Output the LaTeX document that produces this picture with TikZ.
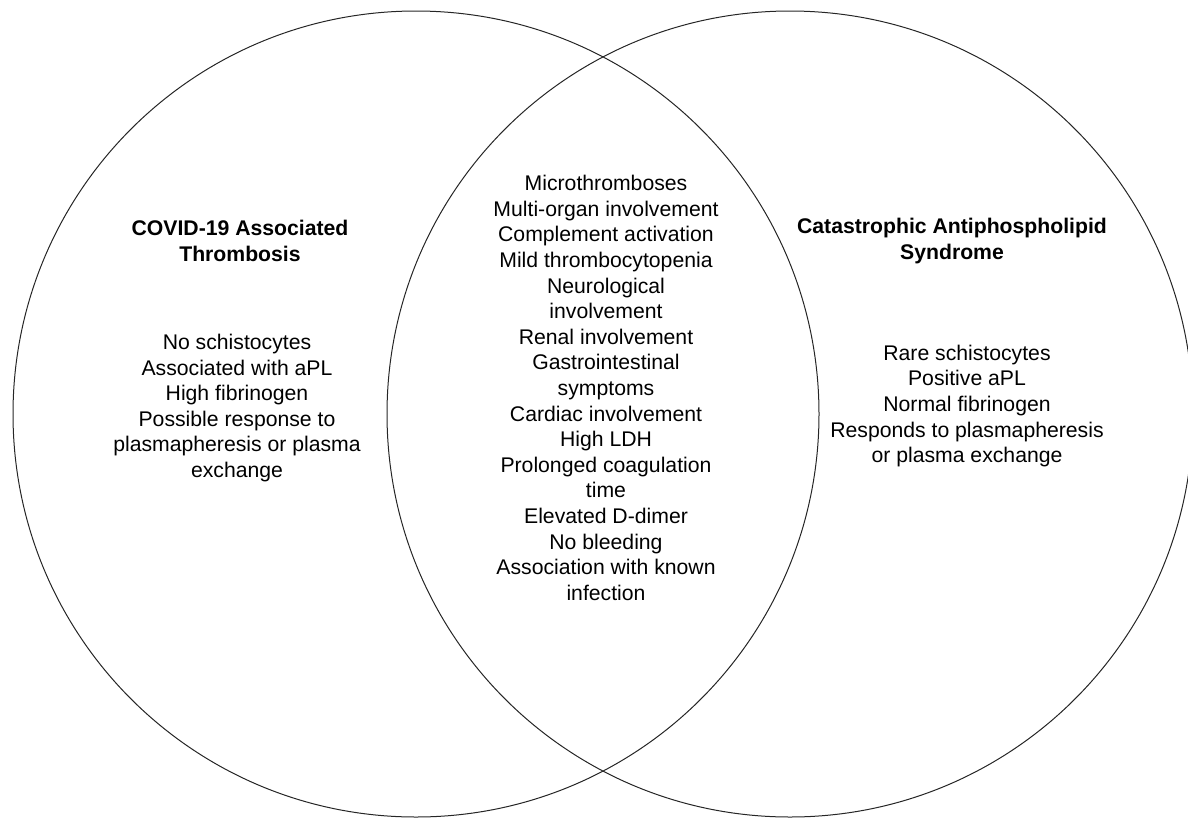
\documentclass[tikz,border=0pt]{standalone}
\usepackage{fontspec}
\setmainfont{Liberation Sans}
\begin{document}
\begin{tikzpicture}[x=1pt,y=-1pt,
  venn/.style={draw=black!85,line width=1pt},
  lbl/.style={align=center,inner sep=0pt,font=\fontsize{21.2}{25.6}\selectfont},
  ttl/.style={lbl,font=\fontsize{21.2}{25.6}\selectfont\bfseries}]
\useasboundingbox (0,0) rectangle (1188,817);
\clip (0,0) rectangle (1188,817);
\draw[venn] (416,414) circle[radius=403pt];
\draw[venn] (790,414) circle[radius=403pt];
\node[ttl] (ltitle) at (240,241) {COVID-19 Associated\\Thrombosis};
\node[lbl] (lbody) at (237,408) {No schistocytes\\Associated with aPL\\High fibrinogen\\Possible response to\\plasmapheresis or plasma\\exchange};
\node[ttl] (rtitle) at (952,241) {Catastrophic Antiphospholipid\\Syndrome};
\node[lbl] (rbody) at (967,406) {Rare schistocytes\\Positive aPL\\Normal fibrinogen\\Responds to plasmapheresis\\or plasma exchange};
\node[lbl] (mid) at (606,388) {Microthromboses\\Multi-organ involvement\\Complement activation\\Mild thrombocytopenia\\Neurological\\involvement\\Renal involvement\\Gastrointestinal\\symptoms\\Cardiac involvement\\High LDH\\Prolonged coagulation\\time\\Elevated D-dimer\\No bleeding\\Association with known\\infection};
\end{tikzpicture}
\end{document}
